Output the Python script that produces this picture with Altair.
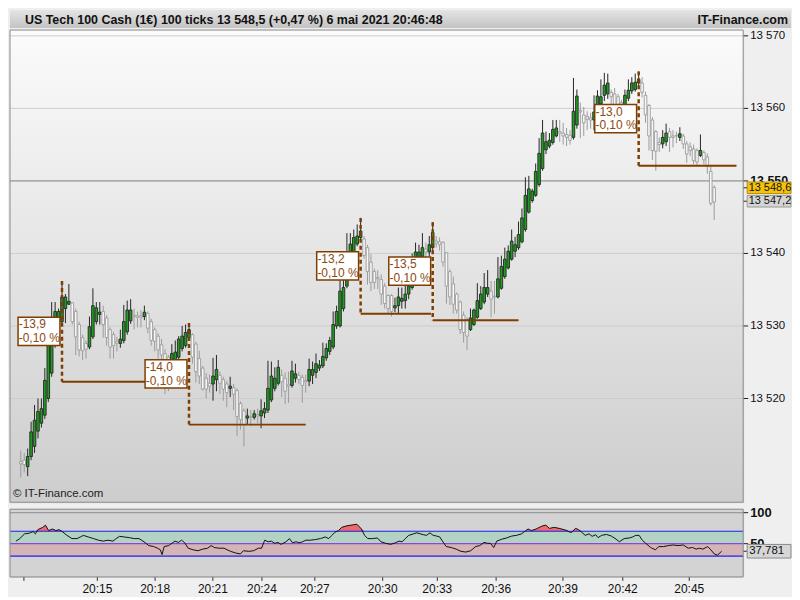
import altair as alt
import pandas as pd

# candles, 100 ticks each
opens = [
    13511.3, 13511.5, 13510.6, 13512.0, 13513.4, 13515.5, 13516.6, 13517.7, 13520.0, 13523.5,
    13527.3, 13531.1, 13530.6, 13532.4, 13533.0, 13533.2, 13532.0, 13530.2, 13528.4, 13527.6,
    13527.1, 13528.5, 13530.6, 13531.6, 13532.0, 13531.1, 13529.5, 13528.8, 13527.9, 13527.6,
    13528.0, 13529.2, 13530.7, 13531.5, 13531.4, 13531.4, 13531.3, 13531.7, 13530.6, 13529.5,
    13528.6, 13527.4, 13526.2, 13525.7, 13524.4, 13524.9, 13525.7, 13526.9, 13527.3, 13528.4,
    13528.8, 13527.5, 13525.5, 13524.2, 13522.8, 13522.1, 13522.0, 13522.6, 13523.2, 13522.6,
    13522.0, 13521.4, 13521.5, 13521.1, 13519.3, 13518.3, 13517.3, 13517.5, 13517.4, 13517.8,
    13517.6, 13518.0, 13518.4, 13519.8, 13521.4, 13522.1, 13523.2, 13522.8, 13521.9, 13521.8,
    13522.8, 13523.2, 13522.9, 13522.5, 13522.4, 13523.2, 13523.6, 13524.2, 13524.5, 13525.6,
    13526.5, 13527.1, 13530.0, 13530.0, 13532.4, 13535.5, 13539.3, 13540.2, 13541.3, 13542.2,
    13542.0, 13540.8, 13538.8, 13537.5, 13536.7, 13536.4, 13535.5, 13534.2, 13534.2, 13532.5,
    13532.8, 13533.4, 13533.5, 13534.4, 13535.3, 13536.0, 13539.3, 13539.6, 13540.6, 13540.2,
    13540.8, 13541.7, 13541.6, 13541.5, 13540.1, 13537.5, 13535.8, 13534.4, 13533.3, 13531.5,
    13530.8, 13529.5, 13530.2, 13531.2, 13532.4, 13533.3, 13534.4, 13534.8, 13534.1, 13534.0,
    13535.2, 13536.8, 13538.0, 13539.2, 13540.3, 13540.8, 13541.6, 13543.3, 13545.7, 13547.3,
    13548.0, 13549.5, 13551.7, 13554.3, 13554.8, 13555.3, 13556.2, 13556.8, 13556.6, 13556.4,
    13556.3, 13556.0, 13557.7, 13559.7, 13559.1, 13558.9, 13558.7, 13558.4, 13559.0, 13560.6,
    13561.8, 13562.0, 13562.2, 13562.0, 13561.6, 13560.8, 13560.4, 13561.4, 13562.4, 13562.6,
    13563.5, 13563.5, 13561.8, 13560.4, 13558.4, 13556.8, 13555.3, 13555.1, 13555.4, 13556.8,
    13556.2, 13556.3, 13556.0, 13556.2, 13555.1, 13554.7, 13554.4, 13554.2, 13553.5, 13553.9,
    13553.3, 13551.3, 13549.1,
]
closes = [
    13511.0, 13510.9, 13512.0, 13515.4, 13517.0, 13518.2, 13518.6, 13522.5, 13527.3, 13528.4,
    13532.0, 13532.0, 13534.0, 13534.0, 13533.4, 13530.6, 13528.5, 13526.7, 13526.6, 13526.8,
    13529.9, 13532.8, 13532.5, 13531.9, 13530.2, 13528.4, 13527.1, 13527.3, 13527.6, 13528.2,
    13530.6, 13532.2, 13532.2, 13531.3, 13531.2, 13531.2, 13531.9, 13529.7, 13528.0, 13527.9,
    13526.7, 13526.0, 13524.5, 13523.0, 13526.2, 13526.4, 13528.2, 13528.6, 13529.1, 13529.5,
    13525.7, 13523.7, 13523.1, 13521.3, 13521.3, 13521.7, 13523.1, 13524.0, 13522.1, 13521.3,
    13520.8, 13521.7, 13520.6, 13517.5, 13517.1, 13516.4, 13517.6, 13517.4, 13517.9, 13517.6,
    13518.3, 13518.6, 13521.4, 13523.1, 13522.8, 13524.3, 13522.3, 13521.0, 13521.7, 13523.8,
    13523.4, 13522.6, 13521.8, 13522.3, 13524.0, 13524.0, 13524.8, 13524.6, 13525.8, 13526.9,
    13528.0, 13530.2, 13532.0, 13534.8, 13535.3, 13539.3, 13541.3, 13542.2, 13542.4, 13543.1,
    13539.7, 13537.5, 13536.0, 13536.0, 13536.5, 13534.4, 13533.1, 13532.4, 13532.0, 13532.8,
    13534.0, 13533.8, 13534.4, 13535.5, 13536.8, 13540.2, 13540.2, 13540.8, 13540.2, 13541.2,
    13542.9, 13541.4, 13541.2, 13538.8, 13535.5, 13534.0, 13533.0, 13532.2, 13529.5, 13529.1,
    13528.6, 13531.1, 13532.2, 13533.5, 13534.4, 13535.3, 13535.3, 13533.7, 13534.0, 13536.5,
    13538.2, 13539.2, 13540.3, 13541.7, 13541.2, 13542.6, 13544.9, 13548.0, 13548.9, 13548.6,
    13551.3, 13553.8, 13556.6, 13555.4, 13555.6, 13557.1, 13557.3, 13556.6, 13556.2, 13556.0,
    13555.6, 13559.6, 13561.7, 13559.5, 13558.0, 13558.5, 13558.4, 13559.5, 13561.7, 13561.6,
    13563.2, 13563.5, 13561.6, 13560.3, 13559.5, 13557.5, 13561.8, 13562.5, 13563.5, 13563.6,
    13564.0, 13562.2, 13559.1, 13556.2, 13554.2, 13554.1, 13555.0, 13556.0, 13556.6, 13556.0,
    13556.0, 13556.2, 13556.5, 13555.1, 13553.7, 13554.2, 13552.8, 13552.6, 13554.2, 13552.9,
    13552.0, 13546.9, 13547.1,
]
highs = [
    13512.8, 13512.5, 13513.1, 13516.8, 13519.1, 13520.0, 13520.0, 13524.2, 13528.4, 13533.3,
    13533.3, 13532.4, 13536.2, 13534.4, 13535.8, 13533.3, 13532.4, 13530.6, 13528.8, 13528.0,
    13531.3, 13535.2, 13533.3, 13533.3, 13532.8, 13531.5, 13529.8, 13529.2, 13528.5, 13529.5,
    13532.9, 13533.5, 13533.7, 13532.4, 13532.0, 13532.2, 13532.8, 13532.0, 13531.0, 13529.8,
    13529.0, 13528.2, 13526.8, 13526.0, 13527.5, 13528.0, 13528.6, 13530.0, 13530.2, 13530.4,
    13529.0, 13527.8, 13526.6, 13524.5, 13523.5, 13523.3, 13525.6, 13526.0, 13523.7, 13523.0,
    13522.4, 13523.0, 13522.0, 13521.4, 13519.6, 13518.6, 13518.6, 13518.4, 13518.4, 13518.6,
    13519.9, 13519.5, 13525.2, 13525.1, 13524.3, 13525.3, 13524.0, 13523.6, 13523.7, 13525.2,
    13524.8, 13523.7, 13523.3, 13523.3, 13525.5, 13525.1, 13526.2, 13525.3, 13527.7, 13527.6,
    13528.5, 13532.0, 13532.8, 13536.4, 13536.8, 13542.8, 13542.8, 13543.3, 13544.0, 13544.9,
    13542.4, 13541.2, 13539.9, 13537.9, 13537.7, 13537.1, 13535.9, 13534.4, 13534.4, 13533.9,
    13535.3, 13535.3, 13535.7, 13536.4, 13540.0, 13541.5, 13541.2, 13542.8, 13541.5, 13542.4,
    13544.3, 13542.4, 13542.2, 13541.7, 13540.2, 13537.8, 13536.8, 13534.6, 13533.5, 13532.0,
    13531.2, 13532.4, 13532.4, 13535.9, 13535.5, 13537.3, 13537.7, 13536.2, 13536.2, 13539.5,
    13539.7, 13540.8, 13541.1, 13543.3, 13542.3, 13544.4, 13546.2, 13550.5, 13550.7, 13548.9,
    13552.4, 13555.9, 13558.4, 13556.8, 13556.6, 13558.4, 13558.4, 13558.4, 13558.0, 13557.3,
    13557.0, 13564.2, 13562.6, 13560.8, 13560.2, 13559.6, 13559.4, 13561.8, 13562.5, 13564.0,
    13564.9, 13564.8, 13562.6, 13562.8, 13562.0, 13561.2, 13562.6, 13564.0, 13564.3, 13564.8,
    13565.1, 13564.3, 13562.3, 13560.6, 13558.8, 13557.0, 13556.0, 13557.0, 13557.9, 13557.3,
    13557.0, 13556.8, 13557.4, 13556.5, 13555.5, 13555.3, 13555.0, 13554.5, 13556.4, 13554.2,
    13553.8, 13552.0, 13549.4,
]
lows = [
    13509.1, 13509.8, 13509.3, 13511.5, 13512.5, 13514.5, 13516.0, 13517.2, 13519.5, 13523.0,
    13527.0, 13530.6, 13530.2, 13530.4, 13532.9, 13530.2, 13526.0, 13525.8, 13525.3, 13525.5,
    13526.8, 13528.2, 13530.2, 13530.2, 13528.4, 13527.3, 13525.5, 13525.5, 13526.5, 13527.0,
    13527.6, 13528.8, 13530.3, 13529.5, 13529.8, 13529.8, 13530.8, 13529.0, 13527.3, 13526.5,
    13525.5, 13525.3, 13520.6, 13521.0, 13524.0, 13524.5, 13525.3, 13526.5, 13527.0, 13528.0,
    13524.8, 13522.2, 13522.0, 13521.1, 13520.0, 13520.8, 13519.7, 13521.0, 13520.6, 13519.7,
    13518.8, 13520.2, 13518.4, 13514.8, 13515.7, 13513.4, 13516.4, 13516.2, 13517.1, 13516.6,
    13515.9, 13517.3, 13518.0, 13519.5, 13521.0, 13521.8, 13520.2, 13519.2, 13519.4, 13521.5,
    13522.2, 13522.0, 13519.4, 13520.8, 13521.7, 13522.0, 13522.8, 13523.8, 13524.2, 13525.2,
    13526.0, 13526.8, 13529.6, 13529.8, 13532.0, 13535.2, 13539.0, 13539.8, 13541.0, 13541.8,
    13539.3, 13535.7, 13534.8, 13535.1, 13535.1, 13532.9, 13532.4, 13531.7, 13531.3, 13531.9,
    13531.7, 13532.4, 13532.4, 13533.7, 13535.0, 13535.7, 13538.8, 13539.2, 13539.5, 13539.6,
    13540.3, 13540.8, 13540.4, 13538.2, 13533.1, 13532.9, 13531.7, 13531.7, 13528.9, 13527.7,
    13526.7, 13529.3, 13530.0, 13531.0, 13532.2, 13533.0, 13534.0, 13531.2, 13531.7, 13533.8,
    13535.0, 13536.5, 13537.8, 13539.0, 13539.5, 13540.5, 13541.4, 13543.0, 13545.5, 13547.0,
    13547.8, 13549.2, 13551.4, 13553.7, 13554.5, 13555.0, 13556.0, 13555.4, 13555.0, 13554.8,
    13555.0, 13555.7, 13557.2, 13555.9, 13556.2, 13557.0, 13557.2, 13557.0, 13558.5, 13559.5,
    13561.0, 13561.3, 13559.0, 13559.2, 13558.0, 13556.8, 13558.8, 13561.0, 13562.0, 13562.3,
    13563.0, 13561.5, 13558.0, 13554.2, 13552.9, 13551.4, 13554.0, 13554.5, 13554.8, 13554.0,
    13554.6, 13555.2, 13555.5, 13554.4, 13552.5, 13553.4, 13552.3, 13552.0, 13553.3, 13552.3,
    13551.0, 13546.6, 13544.6,
]

# oscillator in the lower panel (candle position, value)
rsi_idx = [
    0, 1.1, 2.5, 3.9, 4.9, 5.6, 6.3, 7.7, 8.5, 9.4,
    10.5, 11.5, 12.4, 13.3, 14.7, 16.1, 17.6, 18.5, 19.4, 20.8,
    22.3, 23.7, 25.1, 26.5, 27.9, 28.8, 29.8, 31.2, 32.6, 34.0,
    35.4, 36.8, 38.2, 39.6, 40.7, 41.5, 42.0, 42.6, 43.9, 44.8,
    45.7, 46.7, 47.6, 48.5, 49.5, 50.9, 52.3, 53.7, 55.1, 56.1,
    57.0, 58.4, 59.8, 60.7, 61.7, 63.1, 64.5, 65.4, 66.9, 68.3,
    69.7, 70.6, 71.5, 72.5, 73.4, 74.4, 75.3, 76.2, 77.6, 78.6,
    79.5, 80.5, 81.4, 82.4, 83.3, 84.7, 86.1, 87.5, 88.9, 89.9,
    90.8, 91.7, 92.7, 93.6, 95.1, 96.9, 98.0, 99.3, 100.2, 101.1,
    102.5, 103.9, 104.9, 106.3, 107.7, 109.1, 110.1, 111.0,
    111.9, 112.9, 114.3, 115.2, 116.2, 117.1, 118.0, 119.0, 119.9, 120.9,
    121.8, 122.7, 123.7, 125.1, 126.5, 127.9, 129.3, 130.7, 132.1, 133.3,
    134.5, 135.6, 136.4, 137.3, 138.2, 139.6, 141.0, 142.5, 143.9, 145.3,
    146.2, 147.2, 148.1, 149.5, 150.4, 151.4, 152.3, 153.3, 154.7, 156.1,
    157.5, 158.4, 159.1, 159.8, 160.8, 161.7, 162.6, 163.6, 164.7, 165.6,
    166.6, 167.3, 168.3, 169.7, 171.1, 172.5, 173.4, 174.8, 176.3, 177.2,
    178.1, 179.1, 180.0, 181.0, 182.4, 183.8, 184.7, 186.1, 187.5, 188.9,
    190.3, 191.8, 193.2, 194.4, 195.5, 196.4, 197.4, 198.8, 199.7, 200.7,
    201.6, 202.8,
]
rsi_val = [
    54.1, 58.2, 65.9, 67.0, 69.6, 65.9, 72.6, 76.3, 79.9, 71.1,
    73.7, 71.1, 72.6, 69.6, 63.4, 58.2, 58.2, 60.8, 63.4, 60.8,
    58.2, 55.6, 54.1, 55.6, 54.1, 58.2, 61.8, 60.8, 59.7, 58.2,
    58.2, 53.0, 46.9, 45.3, 42.7, 40.1, 32.4, 45.3, 46.9, 50.5,
    54.1, 52.0, 55.6, 51.5, 42.7, 40.1, 38.6, 41.2, 42.7, 46.9,
    43.8, 42.7, 42.7, 40.1, 37.6, 35.0, 33.4, 38.6, 37.6, 38.6,
    42.7, 42.7, 55.6, 53.0, 54.1, 50.5, 52.0, 48.9, 53.0, 58.2,
    51.5, 53.0, 51.5, 53.0, 55.6, 55.6, 56.7, 58.2, 60.8, 58.2,
    63.4, 68.5, 71.1, 76.3, 78.8, 80.4, 81.4, 73.7, 63.4, 58.2,
    58.2, 59.2, 53.0, 50.5, 48.9, 51.5, 54.1, 53.0,
    58.2, 63.4, 65.9, 67.5, 65.9, 64.4, 63.4, 67.5, 63.4, 62.3,
    60.8, 53.0, 45.3, 43.8, 41.2, 37.6, 36.5, 38.6, 45.3, 46.9,
    52.0, 50.5, 50.5, 43.8, 54.1, 57.2, 59.2, 62.3, 63.4, 65.9,
    69.6, 73.7, 71.1, 73.7, 76.3, 78.8, 79.9, 74.7, 76.3, 74.7,
    72.6, 71.1, 68.5, 68.5, 74.7, 72.6, 68.5, 63.4, 65.9, 61.8,
    64.4, 59.7, 63.4, 64.9, 62.3, 57.2, 53.0, 58.2, 59.2, 60.8,
    63.4, 63.4, 55.6, 50.5, 43.8, 40.1, 45.3, 45.3, 46.9, 47.9,
    46.9, 47.9, 42.7, 43.8, 41.2, 42.7, 41.2, 45.3, 40.1, 33.4,
    31.4, 37.8,
]

price_ticks = [13520, 13530, 13540, 13550, 13560, 13570]
key_level = [13550]

time_pos = [2.3, 23.4, 40.0, 56.6, 70.7, 85.9, 105.4, 121.1, 138.0, 157.2, 174.4, 193.5]
time_lbl = ["", "20:15", "20:18", "20:21", "20:24", "20:27", "20:30",
            "20:33", "20:36", "20:39", "20:42", "20:45"]

# drawdown markers: candle of the high, the high, drop in points, candle where the line stops
dd_idx = [12, 49, 99, 120, 180]
dd_high = [13536.2, 13530.4, 13544.9, 13544.3, 13565.1]
dd_drop = [13.9, 14.0, 13.2, 13.5, 13.0]
dd_end = [48.5, 83, 119.5, 145, 208.5]
dd_pct = ["-0,10 %", "-0,10 %", "-0,10 %", "-0,10 %", "-0,10 %"]

last_prices = [13548.6, 13547.2]
last_fill = ["#f4c20d", "#d5d5d5"]
last_stroke = ["#b38b00", "#999999"]

rsi_levels = [100, 70, 50, 30]
rsi_level_colors = ["#9a9a9a", "#1f1fee", "#9340dc", "#1f1fee"]
rsi_band_lo = [50, 30]
rsi_band_hi = [70, 50]
rsi_band_colors = ["#b2d3c3", "#d4b4b4"]
rsi_ticks = [100, 50]
rsi_last = [37.781]

TITLE = "US Tech 100 Cash (1€) 100 ticks 13 548,5 (+0,47 %) 6 mai 2021 20:46:48"
FONT = "Liberation Sans"
BROWN = "#7f3e00"
W, H, HI = 736, 474, 68

X = alt.Scale(domain=[-1.7, 209], nice=False, zero=False)
Y = alt.Scale(domain=[13505.7, 13570.8], nice=False, zero=False)
YI = alt.Scale(domain=[-3.7, 105.6], nice=False, zero=False)

one = pd.DataFrame({"k": [0]})


def fr(p, nd=1):
    return f"{p:,.{nd}f}".replace(",", " ").replace(".", ",")


candles = pd.DataFrame({"i": range(len(opens)), "o": opens, "h": highs, "l": lows, "c": closes})
up = "datum.c > datum.o"

dd = pd.DataFrame({"idx": dd_idx, "high": dd_high, "drop": dd_drop, "end": dd_end})
dd["low"] = dd["high"] - dd["drop"]
dd["mid"] = dd["high"] - dd["drop"] / 2
dd["bx0"] = dd["idx"] - 12.8
dd["bx1"] = dd["idx"] - 0.6
dd["by0"] = dd["mid"] - 1.95
dd["by1"] = dd["mid"] + 1.95
dd["tx"] = dd["idx"] - 12.6
dd["label"] = ["-" + f"{d:.1f}".replace(".", ",") + "\n" + p for d, p in zip(dd_drop, dd_pct)]

last = pd.DataFrame({"p": last_prices, "fill": last_fill, "stroke": last_stroke})
# the yellow box is lifted a little so the two boxes stack without overlapping
last["pl"] = last["p"] + pd.Series([0.45, 0.0])
last["p0"] = last["pl"] - 0.8
last["p1"] = last["pl"] + 0.8
last["label"] = [fr(p) for p in last_prices]

ticks = pd.DataFrame({"p": price_ticks, "label": [fr(p, 0) for p in price_ticks]})
ticks["key"] = ticks["p"].isin(key_level)

# ---- price panel ----
bg = alt.Chart(one).mark_rect(
    fill=alt.LinearGradient(gradient="linear", x1=0, x2=0, y1=0, y2=1,
                            stops=[alt.GradientStop(color="#fbfbfb", offset=0),
                                   alt.GradientStop(color="#cdcdcd", offset=1)])
).encode(x=alt.value(0), x2=alt.value(W), y=alt.value(0), y2=alt.value(H))

header = alt.Chart(one).mark_rect(
    fill=alt.LinearGradient(gradient="linear", x1=0, x2=0, y1=0, y2=1,
                            stops=[alt.GradientStop(color="#e4e4e4", offset=0),
                                   alt.GradientStop(color="#c3c3c3", offset=1)])
).encode(x=alt.value(0), x2=alt.value(784), y=alt.value(-20), y2=alt.value(-2))

header_txt = alt.Chart(one).mark_text(
    align="left", baseline="middle", fontWeight="bold", fontSize=12.5, font=FONT, color="#111"
).encode(x=alt.value(15), y=alt.value(-10), text=alt.value(TITLE))

brand = alt.Chart(one).mark_text(
    align="right", baseline="middle", fontWeight="bold", fontSize=12.5, font=FONT, color="#111"
).encode(x=alt.value(781), y=alt.value(-10), text=alt.value("IT-Finance.com"))

grid = alt.Chart(ticks).mark_rule(color="#cdcdcd").encode(
    y=alt.Y("p:Q", scale=Y, axis=None), x=alt.value(0), x2=alt.value(W))

key = alt.Chart(pd.DataFrame({"p": key_level})).mark_rule(color="#8c8c8c").encode(
    y=alt.Y("p:Q", scale=Y, axis=None), x=alt.value(0), x2=alt.value(W))

ytick = alt.Chart(ticks).mark_rule(color="#222").encode(
    y=alt.Y("p:Q", scale=Y, axis=None), x=alt.value(W), x2=alt.value(W + 5))

ylab = alt.Chart(ticks).transform_filter("!datum.key").mark_text(
    align="left", baseline="middle", fontSize=11.5, font=FONT, color="#111"
).encode(x=alt.value(W + 7), y=alt.Y("p:Q", scale=Y, axis=None), text="label:N")

ylab_key = alt.Chart(ticks).transform_filter("datum.key").mark_text(
    align="left", baseline="middle", fontSize=12.5, fontWeight="bold", font=FONT, color="#111"
).encode(x=alt.value(W + 7), y=alt.Y("p:Q", scale=Y, axis=None), text="label:N")

wick = alt.Chart(candles).mark_rule(strokeWidth=1).encode(
    x=alt.X("i:Q", scale=X, axis=None),
    y=alt.Y("l:Q", scale=Y, axis=None),
    y2="h:Q",
    color=alt.condition(up, alt.value("#262626"), alt.value("#9c9c9c")),
)

body = alt.Chart(candles).mark_bar(size=2.6, strokeWidth=0.9).encode(
    x=alt.X("i:Q", scale=X, axis=None),
    y=alt.Y("o:Q", scale=Y, axis=None),
    y2="c:Q",
    fill=alt.condition(up, alt.value("#1e9e1e"), alt.value("#f7f7f7")),
    stroke=alt.condition(up, alt.value("#262626"), alt.value("#9c9c9c")),
)

dd_vert = alt.Chart(dd).mark_rule(color=BROWN, strokeWidth=2.5, strokeDash=[4, 3]).encode(
    x=alt.X("idx:Q", scale=X, axis=None), y=alt.Y("high:Q", scale=Y, axis=None), y2="low:Q")

dd_horz = alt.Chart(dd).mark_rule(color=BROWN, strokeWidth=2).encode(
    x=alt.X("idx:Q", scale=X, axis=None), x2="end:Q", y=alt.Y("low:Q", scale=Y, axis=None))

dd_box = alt.Chart(dd).mark_rect(fill="white", stroke=BROWN, strokeWidth=1.5).encode(
    x=alt.X("bx0:Q", scale=X, axis=None), x2="bx1:Q",
    y=alt.Y("by0:Q", scale=Y, axis=None), y2="by1:Q")

dd_txt = alt.Chart(dd).mark_text(
    align="left", baseline="middle", lineBreak="\n", lineHeight=14, dy=-7,
    fontSize=12, font=FONT, color="#8a4a12"
).encode(x=alt.X("tx:Q", scale=X, axis=None), y=alt.Y("mid:Q", scale=Y, axis=None), text="label:N")

copy_txt = alt.Chart(one).mark_text(
    align="left", baseline="middle", fontSize=11.5, font=FONT, color="#222"
).encode(x=alt.value(3), y=alt.value(H - 8), text=alt.value("© IT-Finance.com"))

last_tick = alt.Chart(last).mark_rule(color="#222").encode(
    x=alt.value(W), x2=alt.value(W + 4), y=alt.Y("pl:Q", scale=Y, axis=None))

last_box = alt.Chart(last).mark_rect(strokeWidth=1).encode(
    x=alt.value(W + 4), x2=alt.value(W + 48),
    y=alt.Y("p0:Q", scale=Y, axis=None), y2="p1:Q",
    fill=alt.Fill("fill:N", scale=None), stroke=alt.Stroke("stroke:N", scale=None))

last_txt = alt.Chart(last).mark_text(
    align="left", baseline="middle", fontSize=11, font=FONT, color="#111"
).encode(x=alt.value(W + 5.5), y=alt.Y("pl:Q", scale=Y, axis=None), text="label:N")

frame = alt.Chart(one).mark_rect(fillOpacity=0, stroke="#8a8a8a", strokeWidth=1).encode(
    x=alt.value(0), x2=alt.value(W), y=alt.value(0), y2=alt.value(H))

main = alt.layer(
    header, header_txt, brand, bg, grid, key, ytick, ylab, ylab_key, wick, body,
    dd_vert, dd_horz, dd_box, dd_txt, copy_txt, last_tick, last_box, last_txt, frame
).properties(width=W, height=H)

# ---- oscillator panel ----
rsi = pd.DataFrame({"i": rsi_idx, "v": rsi_val})
rsi["top"] = rsi["v"].clip(lower=70)
rsi["base"] = 70

bands = pd.DataFrame({"lo": rsi_band_lo, "hi": rsi_band_hi, "color": rsi_band_colors})
levels = pd.DataFrame({"v": rsi_levels, "color": rsi_level_colors})
iticks = pd.DataFrame({"v": rsi_ticks, "label": [str(v) for v in rsi_ticks]})
times = pd.DataFrame({"i": time_pos, "label": time_lbl})
rlast = pd.DataFrame({"v": rsi_last})
rlast["v0"] = rlast["v"] - 11
rlast["v1"] = rlast["v"] + 11
rlast["label"] = [fr(v, 3) for v in rsi_last]

ibg = alt.Chart(one).mark_rect(fill="#d3d3d3").encode(
    x=alt.value(0), x2=alt.value(W), y=alt.value(0), y2=alt.value(HI))

iband = alt.Chart(bands).mark_rect().encode(
    x=alt.value(0), x2=alt.value(W),
    y=alt.Y("lo:Q", scale=YI, axis=None), y2="hi:Q",
    fill=alt.Fill("color:N", scale=None))

ired = alt.Chart(rsi).mark_area(color="#ef6b6b").encode(
    x=alt.X("i:Q", scale=X, axis=None), y=alt.Y("top:Q", scale=YI, axis=None), y2="base:Q")

ilev = alt.Chart(levels).mark_rule(strokeWidth=1.2).encode(
    x=alt.value(0), x2=alt.value(W),
    y=alt.Y("v:Q", scale=YI, axis=None), color=alt.Color("color:N", scale=None))

iline = alt.Chart(rsi).mark_line(color="#111", strokeWidth=1).encode(
    x=alt.X("i:Q", scale=X, axis=None), y=alt.Y("v:Q", scale=YI, axis=None))

iytick = alt.Chart(iticks).mark_rule(color="#222").encode(
    y=alt.Y("v:Q", scale=YI, axis=None), x=alt.value(W), x2=alt.value(W + 5))

iylab = alt.Chart(iticks).mark_text(
    align="left", baseline="middle", fontSize=13, fontWeight="bold", font=FONT, color="#111"
).encode(x=alt.value(W + 7), y=alt.Y("v:Q", scale=YI, axis=None), text="label:N")

ixtick = alt.Chart(times).mark_rule(color="#333").encode(
    x=alt.X("i:Q", scale=X, axis=None), y=alt.value(HI), y2=alt.value(HI + 4))

ixlab = alt.Chart(times).mark_text(
    align="center", baseline="middle", fontSize=12, font=FONT, color="#111"
).encode(x=alt.X("i:Q", scale=X, axis=None), y=alt.value(HI + 12), text="label:N")

ilast_box = alt.Chart(rlast).mark_rect(fill="#d6d6d6", stroke="#8a8a8a", strokeWidth=1).encode(
    x=alt.value(W + 4), x2=alt.value(W + 48),
    y=alt.Y("v0:Q", scale=YI, axis=None), y2="v1:Q")

ilast_tick = alt.Chart(rlast).mark_rule(color="#222").encode(
    x=alt.value(W), x2=alt.value(W + 4), y=alt.Y("v:Q", scale=YI, axis=None))

ilast_txt = alt.Chart(rlast).mark_text(
    align="left", baseline="middle", fontSize=11.5, font=FONT, color="#111"
).encode(x=alt.value(W + 6), y=alt.Y("v:Q", scale=YI, axis=None), text="label:N")

iframe = alt.Chart(one).mark_rect(fillOpacity=0, stroke="#8a8a8a", strokeWidth=1).encode(
    x=alt.value(0), x2=alt.value(W), y=alt.value(0), y2=alt.value(HI))

ind = alt.layer(
    ibg, iband, ired, ilev, iline, iytick, iylab, ixtick, ixlab,
    ilast_tick, ilast_box, ilast_txt, iframe
).properties(width=W, height=HI)

chart = alt.vconcat(main, ind, spacing=2).properties(
    padding=0, background="#efefef"
).configure_view(stroke=None).configure(font=FONT)

chart.save("out.html", embed_options={"renderer": "svg", "actions": False})
